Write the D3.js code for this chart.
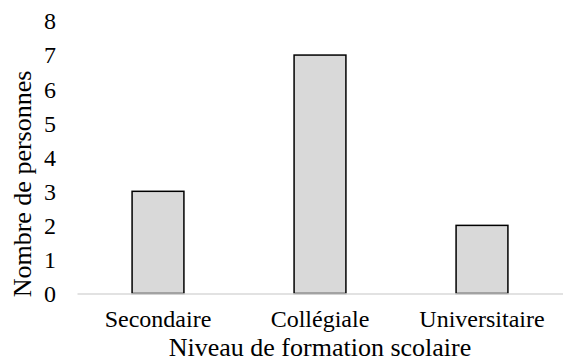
<!DOCTYPE html>
<html>
<head>
<meta charset="utf-8">
<script src="https://cdn.jsdelivr.net/npm/d3@7"></script>
<style>
  html, body { margin: 0; padding: 0; background: #fff; }
</style>
</head>
<body>
<svg id="chart" width="563" height="360"></svg>
<script>
const categories = ["Secondaire", "Collégiale", "Universitaire"];
const values = [3, 7, 2];
const yTicks = [0, 1, 2, 3, 4, 5, 6, 7, 8];
const yTitle = "Nombre de personnes";
const xTitle = "Niveau de formation scolaire";

const FONT = "Liberation Serif";
const svg = d3.select("#chart");
const margin = { left: 77, right: 0, top: 21, bottom: 66.5 };
const W = 563, H = 360;

const x = d3.scaleBand()
  .domain(categories)
  .range([margin.left, W - margin.right])
  .paddingInner(0.68)
  .paddingOuter(0.34);

const y = d3.scaleLinear()
  .domain([0, 8])
  .range([H - margin.bottom, margin.top]);

// y tick labels only: no axis line, no tick marks
const yAxis = d3.axisLeft(y).tickValues(yTicks).tickSize(0).tickPadding(0).tickFormat(d3.format("d"));
const gy = svg.append("g").attr("transform", "translate(56,0)").call(yAxis);
gy.select(".domain").remove();
gy.selectAll("text")
  .attr("font-size", 24)
  .attr("font-family", FONT)
  .attr("fill", "#000")
  .attr("dy", "0.33em");

// bars
svg.append("g").selectAll("rect")
  .data(values)
  .join("rect")
  .attr("x", (d, i) => x(categories[i]))
  .attr("y", d => y(d))
  .attr("width", x.bandwidth())
  .attr("height", d => y(0) - y(d))
  .attr("fill", "#d9d9d9")
  .attr("stroke", "#000")
  .attr("stroke-width", 1.5);

// category axis with a light baseline
const xAxis = d3.axisBottom(x).tickSize(0).tickPadding(0);
const gx = svg.append("g").attr("transform", `translate(0,${y(0)})`).call(xAxis);
gx.select(".domain").attr("stroke", "#d9d9d9").attr("stroke-width", 1.5);
gx.selectAll("text")
  .attr("font-size", 24)
  .attr("font-family", FONT)
  .attr("fill", "#000")
  .attr("dy", null)
  .attr("y", 327 - y(0));

// axis titles
svg.append("text")
  .attr("x", (margin.left + W) / 2)
  .attr("y", 355.5)
  .attr("text-anchor", "middle")
  .attr("font-size", 26)
  .attr("font-family", FONT)
  .attr("fill", "#000")
  .text(xTitle);

svg.append("text")
  .attr("transform", "translate(31,184) rotate(-90)")
  .attr("text-anchor", "middle")
  .attr("font-size", 26)
  .attr("font-family", FONT)
  .attr("fill", "#000")
  .text(yTitle);
</script>
</body>
</html>
